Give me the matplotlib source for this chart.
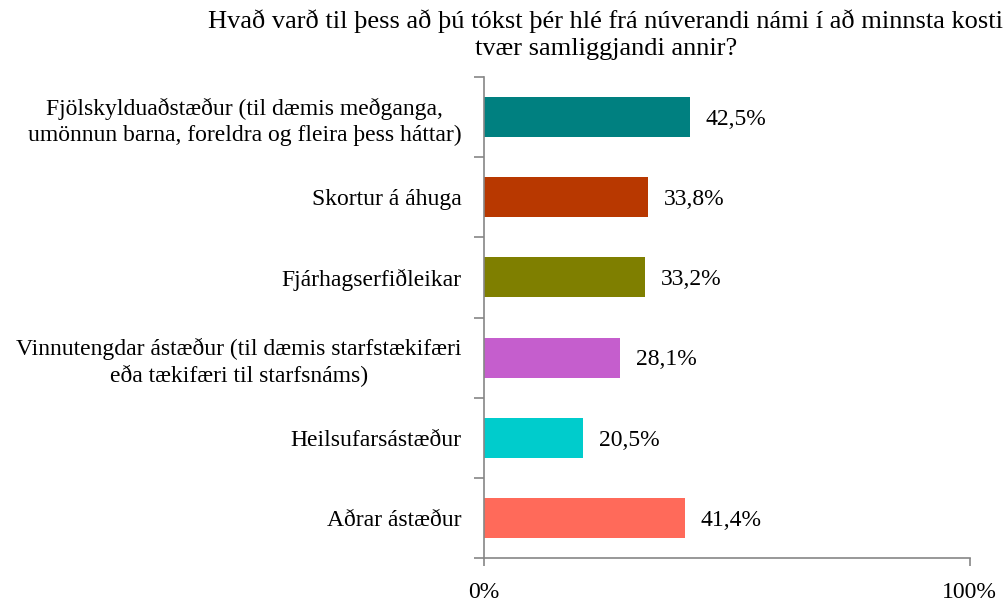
import matplotlib.pyplot as plt

plt.rcParams["font.family"] = ["Liberation Serif", "DejaVu Serif"]

categories = [
    "Fjölskylduaðstæður (til dæmis meðganga,\numönnun barna, foreldra og fleira þess háttar)",
    "Skortur á áhuga",
    "Fjárhagserfiðleikar",
    "Vinnutengdar ástæður (til dæmis starfstækifæri\neða tækifæri til starfsnáms)",
    "Heilsufarsástæður",
    "Aðrar ástæður",
]
values = [42.5, 33.8, 33.2, 28.1, 20.5, 41.4]
colors = ["#008080", "#B83800", "#7F7F00", "#C55ECD", "#00CCCC", "#FF6A5A"]
title = ("Hvað varð til þess að þú tókst þér hlé frá núverandi námi í að minnsta kosti\n"
         "tvær samliggjandi annir?")

fig = plt.figure(figsize=(10.08, 6.03), dpi=100)
ax = fig.add_axes([0.480, 0.0746, 0.482, 0.7977])

pos = list(range(len(categories)))[::-1]
ax.barh(pos, values, height=0.5, color=colors)
for p, v in zip(pos, values):
    ax.text(v + 3.2, p - 0.03, f"{v:.1f}%".replace(".", ","), va="center", ha="left",
            fontsize=17)

ax.set_xlim(0, 100)
ax.set_ylim(-0.5, len(categories) - 0.5)
ax.set_xticks([0, 100])
ax.set_xticklabels(["0%", "100%"], fontsize=17)
ax.set_yticks(pos)
ax.set_yticklabels(categories, fontsize=17, ha="right", multialignment="center",
                   linespacing=1.3)
ax.tick_params(axis="y", length=0, pad=16)
# y tick marks between categories
ax.set_yticks([i - 0.5 for i in range(len(categories) + 1)], minor=True)
ax.tick_params(axis="y", which="minor", length=7, color="#868686", width=1.2)
ax.tick_params(axis="x", length=6, color="#868686", width=1.2, pad=11)

for side in ["top", "right"]:
    ax.spines[side].set_visible(False)
for side in ["left", "bottom"]:
    ax.spines[side].set_color("#868686")
    ax.spines[side].set_linewidth(1.2)

fig.text(0.601, 0.985, title, ha="center", va="top", fontsize=19, linespacing=1.3)

fig.savefig("out.png", dpi=100)
